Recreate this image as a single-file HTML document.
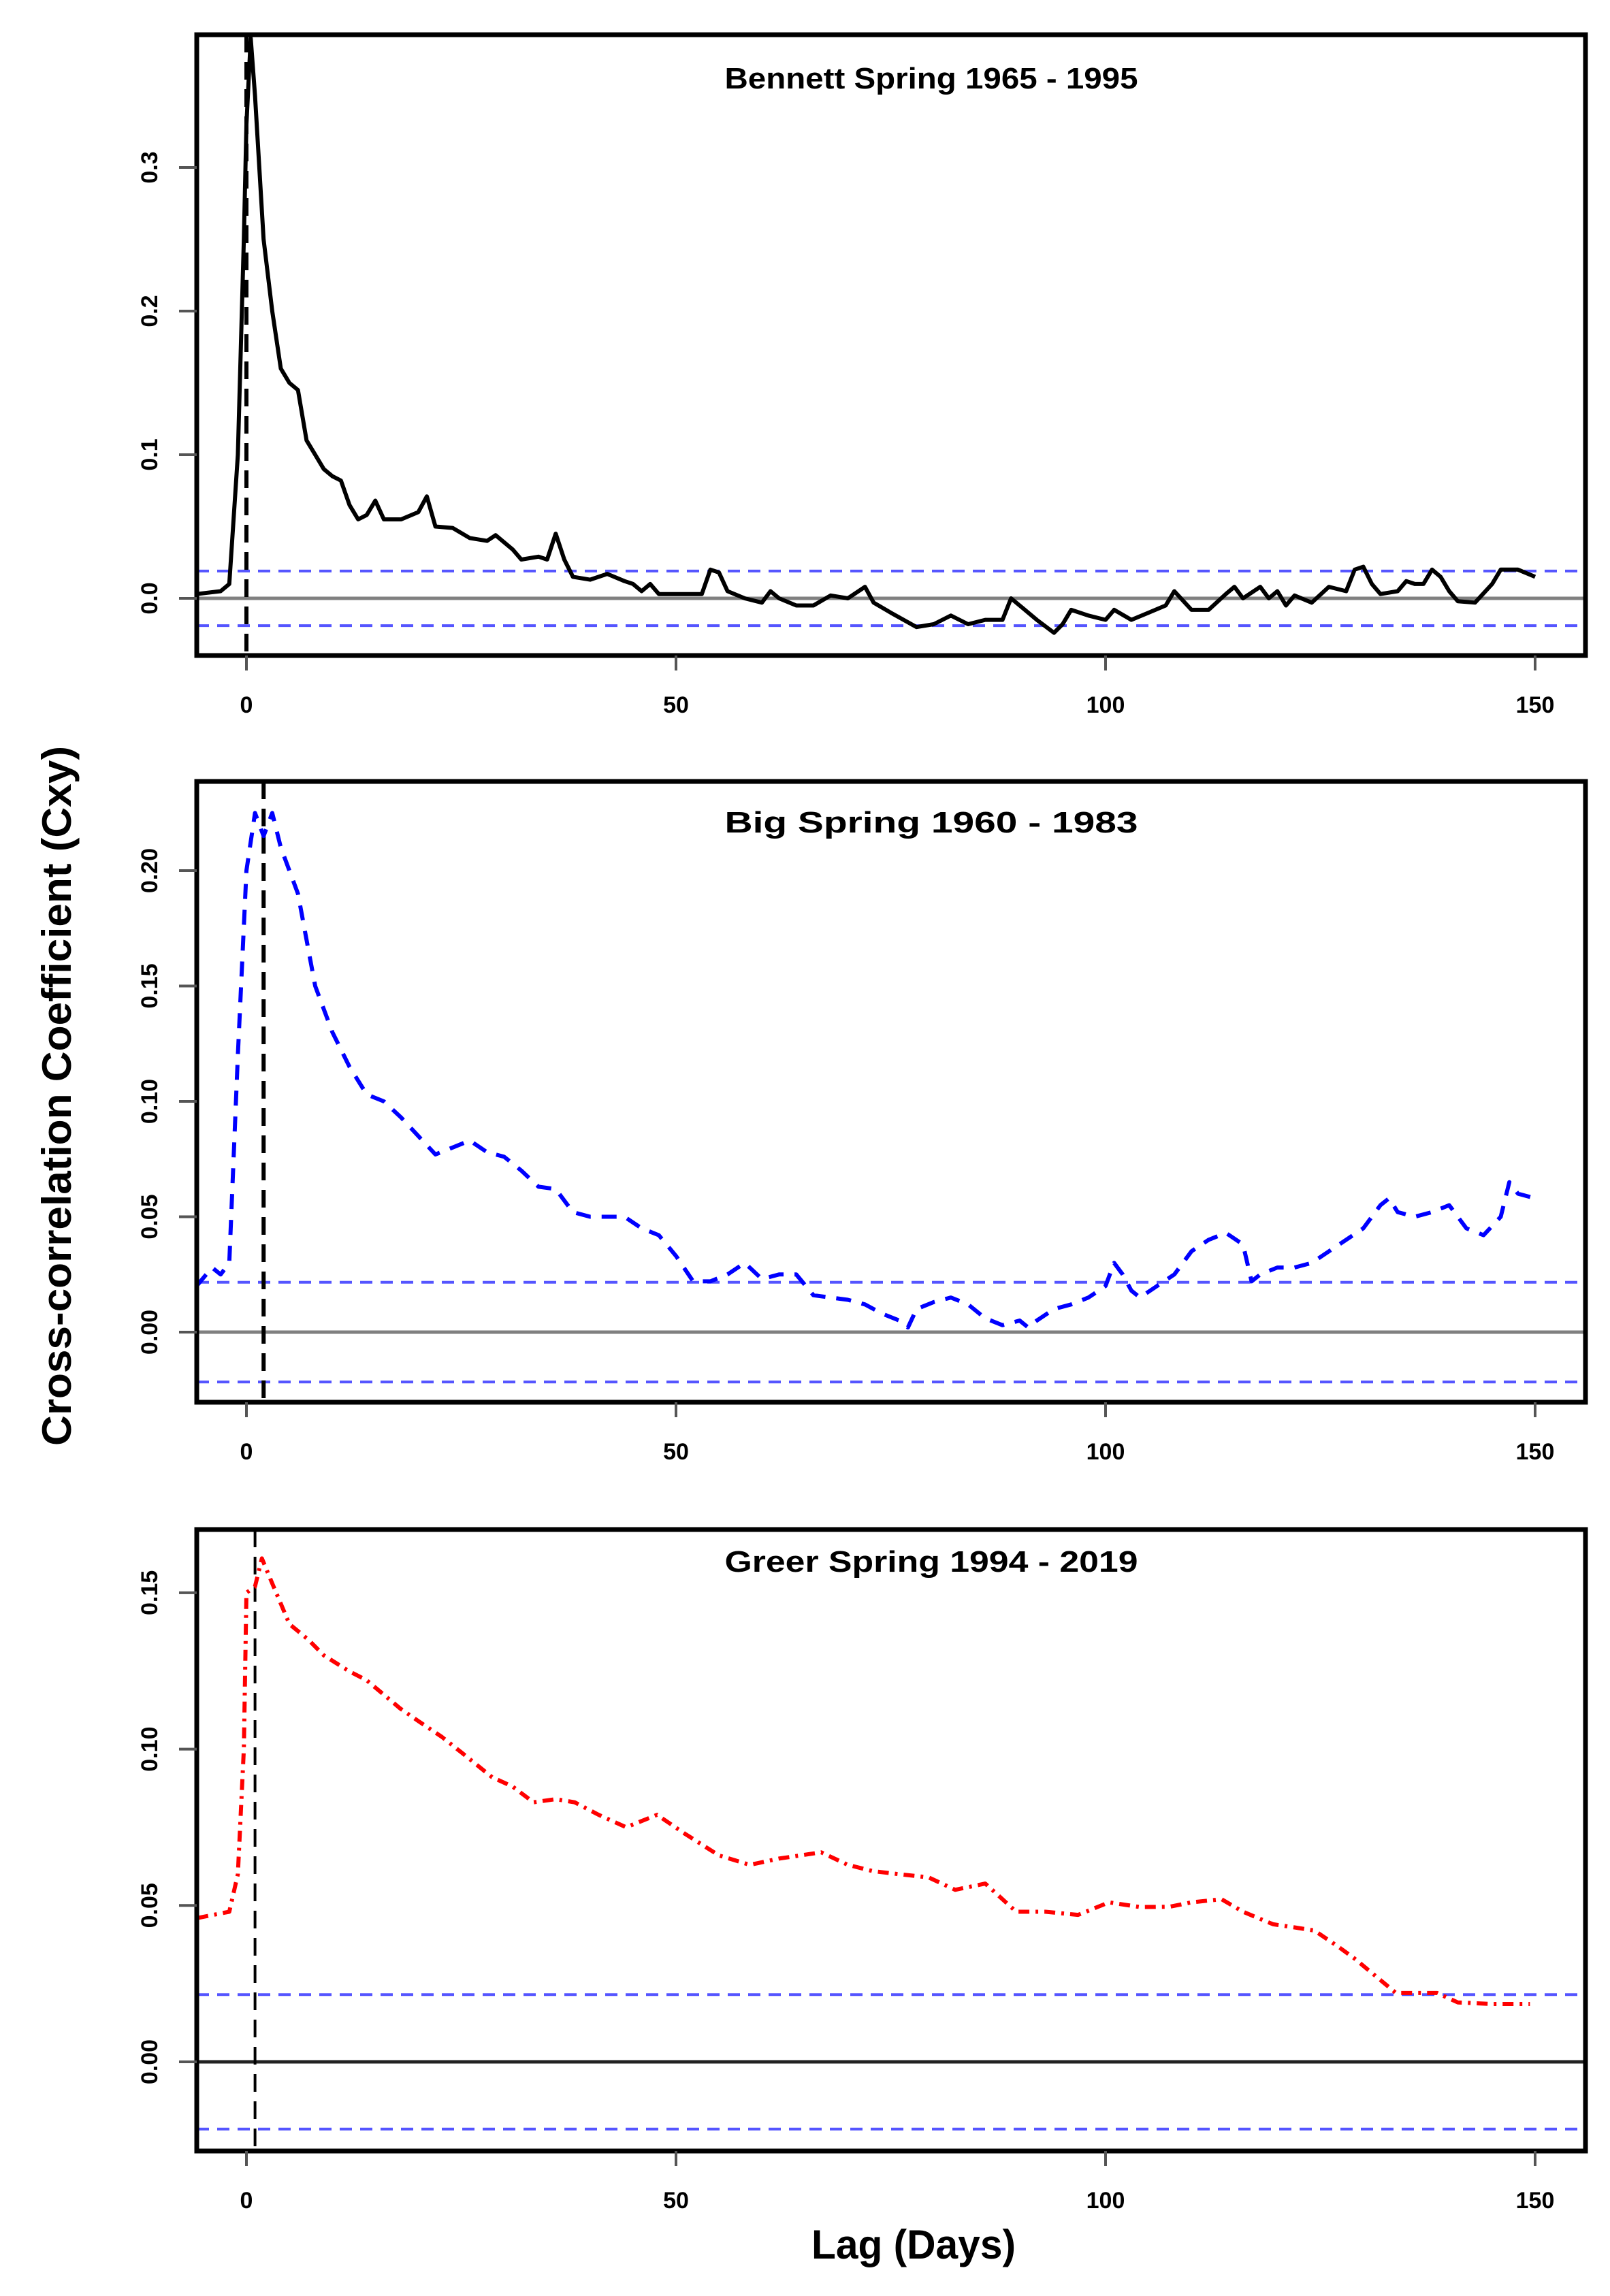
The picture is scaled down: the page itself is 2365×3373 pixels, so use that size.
<!DOCTYPE html>
<html><head><meta charset="utf-8"><style>
html,body{margin:0;padding:0;background:#fff}
svg{display:block}
text{font-family:"Liberation Sans",Arial,sans-serif;font-weight:bold;fill:#000}
</style></head><body>
<svg id="s" width="2365" height="3373" viewBox="0 0 2365 3373" xmlns="http://www.w3.org/2000/svg">
<rect width="2365" height="3373" fill="#fff"/>
<text x="0" y="0" font-size="60" text-anchor="middle" transform="translate(104,1610) rotate(-90)" textLength="1028" lengthAdjust="spacingAndGlyphs">Cross-correlation Coefficient (Cxy)</text>
<text x="1342" y="3318" font-size="60" text-anchor="middle" textLength="300" lengthAdjust="spacingAndGlyphs">Lag (Days)</text>
</svg>
<script>
var S=document.getElementById('s'),NS='http://www.w3.org/2000/svg';
function el(n,a,t){var e=document.createElementNS(NS,n);for(var k in a)e.setAttribute(k,a[k]);if(t)e.textContent=t;S.appendChild(e);return e;}
var L=289,R=2329;function X(d){return 362+12.62*d;}
function panel(o){
 var Y=function(v){return o.y0-v*o.k;};
 // blue conf lines
 [o.c,-o.c].forEach(function(c){el('line',{x1:L,x2:R,y1:Y(c),y2:Y(c),stroke:'#5555ff','stroke-width':4,'stroke-dasharray':'18 12'});});
 el('line',{x1:L,x2:R,y1:Y(0),y2:Y(0),stroke:o.zc,'stroke-width':5});
 // vertical dashed
 el('line',{x1:X(o.vl),x2:X(o.vl),y1:o.top,y2:o.bot,stroke:'#000','stroke-width':o.vw,'stroke-dasharray':'26 14'});
 // series
 var p=o.d.map(function(q,i){return (i?'L':'M')+X(q[0]).toFixed(1)+' '+Y(q[1]).toFixed(1);}).join(' ');
 el('path',{d:p,fill:'none',stroke:o.col,'stroke-width':6,'stroke-linejoin':'round','stroke-dasharray':o.da||'none'});
 // frame
 el('rect',{x:L,y:o.top,width:R-L,height:o.bot-o.top,fill:'none',stroke:'#000','stroke-width':7});
 // ticks
 o.yt.forEach(function(t){var y=Y(t[0]);el('line',{x1:263,x2:L,y1:y,y2:y,stroke:'#555','stroke-width':4});
  el('text',{x:0,y:0,'font-size':34,'text-anchor':'middle',transform:'translate(231,'+y+') rotate(-90)'},t[1]);});
 [0,50,100,150].forEach(function(d){el('line',{x1:X(d),x2:X(d),y1:o.bot,y2:o.bot+22,stroke:'#555','stroke-width':4});
  el('text',{x:X(d),y:o.bot+84,'font-size':34,'text-anchor':'middle'},String(d));});
 el('text',{x:1368,y:o.ty,'font-size':44,'text-anchor':'middle',textLength:607,lengthAdjust:'spacingAndGlyphs'},o.title);
}
panel({top:51,bot:963,y0:879,k:2110,c:0.019,zc:'#808080',vl:0,vw:6,col:'#000',title:'Bennett Spring 1965 - 1995',ty:130,
 yt:[[0,'0.0'],[0.1,'0.1'],[0.2,'0.2'],[0.3,'0.3']],
 d:[[-5.8,0.003],[-3,0.005],[-2,0.01],[-1,0.1],[-0.3,0.25],[0,0.33],[0.5,0.39],[1,0.35],[2,0.25],[3,0.2],[4,0.16],[5,0.15],[6,0.145],[7,0.11],[8,0.1],[9,0.09],[10,0.085],[11,0.082],[12,0.065],[13,0.055],[14,0.058],[15,0.068],[16,0.055],[18,0.055],[20,0.06],[21,0.071],[22,0.05],[24,0.049],[26,0.042],[28,0.04],[29,0.044],[31,0.034],[32,0.027],[34,0.029],[35,0.027],[36,0.045],[37,0.027],[38,0.015],[40,0.013],[42,0.017],[44,0.012],[45,0.01],[46,0.005],[47,0.01],[48,0.003],[50,0.003],[53,0.003],[54,0.02],[55,0.018],[56,0.005],[58,0],[60,-0.003],[61,0.005],[62,0],[64,-0.005],[66,-0.005],[68,0.002],[70,0],[72,0.008],[73,-0.003],[75,-0.01],[78,-0.02],[80,-0.018],[82,-0.012],[84,-0.018],[86,-0.015],[88,-0.015],[89,0],[90,-0.005],[92,-0.015],[94,-0.024],[95,-0.018],[96,-0.008],[98,-0.012],[100,-0.015],[101,-0.008],[103,-0.015],[105,-0.01],[107,-0.005],[108,0.005],[110,-0.008],[112,-0.008],[114,0.003],[115,0.008],[116,0],[118,0.008],[119,0],[120,0.005],[121,-0.005],[122,0.002],[124,-0.003],[126,0.008],[128,0.005],[129,0.02],[130,0.022],[131,0.01],[132,0.003],[134,0.005],[135,0.012],[136,0.01],[137,0.01],[138,0.02],[139,0.015],[140,0.005],[141,-0.002],[143,-0.003],[145,0.01],[146,0.02],[148,0.02],[150,0.015]]});
panel({top:1148,bot:2060,y0:1957,k:3390,c:0.0216,zc:'#808080',vl:2,vw:6,col:'#0000ff',da:'22 16',title:'Big Spring 1960 - 1983',ty:1223,
 yt:[[0,'0.00'],[0.05,'0.05'],[0.1,'0.10'],[0.15,'0.15'],[0.2,'0.20']],
 d:[[-5.8,0.02],[-4,0.028],[-3,0.025],[-2,0.03],[-1,0.12],[0,0.2],[1,0.225],[2,0.215],[3,0.225],[4,0.21],[5,0.2],[6,0.19],[7,0.17],[8,0.15],[9,0.14],[10,0.13],[12,0.115],[14,0.103],[16,0.1],[18,0.093],[20,0.085],[22,0.077],[24,0.08],[26,0.083],[28,0.078],[30,0.076],[32,0.07],[34,0.063],[36,0.062],[38,0.052],[40,0.05],[42,0.05],[44,0.05],[46,0.045],[48,0.042],[50,0.033],[52,0.022],[54,0.022],[56,0.025],[58,0.03],[60,0.023],[62,0.025],[64,0.025],[66,0.016],[68,0.015],[70,0.014],[72,0.012],[74,0.008],[76,0.005],[77,0.002],[78,0.01],[80,0.013],[82,0.015],[84,0.012],[86,0.006],[88,0.003],[90,0.005],[91,0.002],[92,0.005],[94,0.01],[96,0.012],[98,0.015],[100,0.02],[101,0.03],[102,0.025],[103,0.018],[104,0.015],[106,0.02],[108,0.025],[110,0.035],[112,0.04],[114,0.043],[116,0.038],[117,0.022],[118,0.025],[120,0.028],[122,0.028],[124,0.03],[126,0.035],[128,0.04],[130,0.045],[132,0.055],[133,0.058],[134,0.052],[136,0.05],[138,0.052],[140,0.055],[142,0.045],[144,0.042],[146,0.05],[147,0.065],[148,0.06],[150,0.058]]});
panel({top:2247,bot:3160,y0:3029,k:4594,c:0.0215,zc:'#222',vl:1,vw:4,col:'#ff0000',da:'16 9 4 9',title:'Greer Spring 1994 - 2019',ty:2309,
 yt:[[0,'0.00'],[0.05,'0.05'],[0.1,'0.10'],[0.15,'0.15']],
 d:[[-5.7,0.046],[-2,0.048],[-1,0.06],[-0.3,0.1],[0,0.15],[1,0.152],[1.8,0.161],[3,0.153],[5,0.14],[7.2,0.135],[9,0.13],[11.9,0.125],[14,0.122],[17.9,0.113],[20,0.109],[22.7,0.104],[25,0.099],[28.6,0.091],[31,0.088],[33.4,0.083],[36,0.084],[38.2,0.083],[41,0.079],[44.2,0.075],[47.8,0.079],[51,0.073],[55,0.066],[58.6,0.063],[62,0.065],[66.9,0.067],[70,0.063],[72.9,0.061],[76,0.06],[79.4,0.059],[82.5,0.055],[86,0.057],[89.6,0.048],[93,0.048],[96.8,0.047],[100.4,0.051],[104,0.0495],[107.5,0.0496],[110,0.051],[113.5,0.052],[116,0.048],[119.5,0.044],[122,0.043],[124.3,0.042],[127,0.037],[129,0.033],[133.8,0.022],[136,0.022],[138.6,0.022],[141,0.019],[145,0.0185],[149.4,0.0185]]});
</script>
</body></html>
